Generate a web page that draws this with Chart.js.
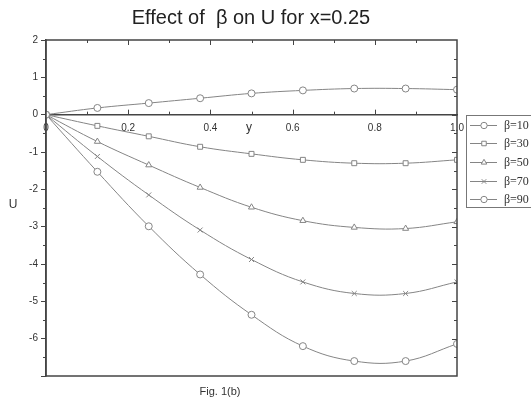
<!DOCTYPE html>
<html>
<head>
<meta charset="utf-8">
<script src="https://cdn.jsdelivr.net/npm/chart.js@4.4.0/dist/chart.umd.min.js"></script>
<style>
  html, body { margin: 0; padding: 0; background: #fff; }
  #wrap { width: 531px; height: 403px; position: relative; }
</style>
</head>
<body>
<div id="wrap"><canvas id="c" width="531" height="403"></canvas></div>
<script>
// y positions across the channel
const yPos = [0, 0.125, 0.25, 0.375, 0.5, 0.625, 0.75, 0.875, 1.0];

// velocity U for each beta
const u10 = [0, 0.18, 0.31, 0.44, 0.57, 0.65, 0.70, 0.70, 0.67];
const u30 = [0, -0.30, -0.58, -0.86, -1.05, -1.21, -1.30, -1.30, -1.21];
const u50 = [0, -0.72, -1.35, -1.95, -2.48, -2.84, -3.02, -3.05, -2.87];
const u70 = [0, -1.12, -2.15, -3.09, -3.88, -4.48, -4.79, -4.79, -4.48];
const u90 = [0, -1.53, -2.99, -4.28, -5.36, -6.20, -6.60, -6.60, -6.14];

const seriesLabels = ['\u03b2=10', '\u03b2=30', '\u03b2=50', '\u03b2=70', '\u03b2=90'];
const seriesValues = [u10, u30, u50, u70, u90];
const seriesMarkers = ['circle', 'rect', 'triangle', 'crossRot', 'circle'];

const titleText = 'Effect of  \u03b2 on U for x=0.25';
const xTitle = 'y';
const yTitle = 'U';
const caption = 'Fig. 1(b)';

const LINE = '#858585';
const AXIS = '#444444';

const datasets = seriesValues.map((vals, i) => ({
  label: seriesLabels[i],
  data: yPos.map((x, k) => ({ x: x, y: vals[k] })),
  borderColor: LINE,
  borderWidth: 1,
  backgroundColor: '#ffffff',
  pointStyle: seriesMarkers[i],
  pointRadius: 3.5,
  pointBorderColor: LINE,
  pointBackgroundColor: '#ffffff',
  pointBorderWidth: 1,
  tension: 0.4,
  fill: false,
  clip: 0
}));

// frame, inward/minor ticks, free-standing labels and the boxed legend
const decorations = {
  id: 'decorations',
  afterDraw(chart) {
    const ctx = chart.ctx;
    const a = chart.chartArea;
    const xs = chart.scales.x, ys = chart.scales.y;
    const y0 = ys.getPixelForValue(0);
    ctx.save();

    // box around the plot
    ctx.strokeStyle = AXIS;
    ctx.lineWidth = 1.5;
    ctx.strokeRect(a.left, a.top, a.right - a.left, a.bottom - a.top);

    ctx.lineWidth = 1;
    ctx.beginPath();
    // x ticks: on the zero line (upward) and on the top border (downward)
    for (let i = 1; i < 10; i++) {
      const v = i / 10;
      const px = Math.round(xs.getPixelForValue(v)) + 0.5;
      const len = (i % 2 === 0) ? 5 : 3;
      ctx.moveTo(px, y0); ctx.lineTo(px, y0 - len);
      ctx.moveTo(px, a.top); ctx.lineTo(px, a.top + len);
    }
    // y minor ticks on the left (outward) and all ticks on the right (inward)
    for (let k = -14; k <= 4; k++) {
      const v = k / 2;
      const py = Math.round(ys.getPixelForValue(v)) + 0.5;
      const major = (k % 2 === 0);
      if (!major) { ctx.moveTo(a.left, py); ctx.lineTo(a.left - 3, py); }
      if (v > -7 && v < 2) {
        const len = major ? 5 : 3;
        ctx.moveTo(a.right, py); ctx.lineTo(a.right - len, py);
      }
    }
    ctx.stroke();

    // title and axis captions
    ctx.fillStyle = '#222';
    ctx.textAlign = 'center';
    ctx.textBaseline = 'middle';
    ctx.font = '20px "Liberation Sans", Arial, sans-serif';
    ctx.fillText(titleText, 251, 18);
    ctx.font = '12px "Liberation Sans", Arial, sans-serif';
    ctx.fillStyle = '#333';
    ctx.fillText(xTitle, 249, 128);
    ctx.fillText(yTitle, 13, 205);
    ctx.font = '11px "Liberation Sans", Arial, sans-serif';
    ctx.fillText(caption, 220, 392);

    // legend box
    const lx = 466, ly = 115, lw = 90, lh = 92;
    ctx.strokeStyle = '#777';
    ctx.lineWidth = 1;
    ctx.strokeRect(lx + 0.5, ly + 0.5, lw, lh);
    const rows = [125, 143, 162, 181, 199];
    chart.data.datasets.forEach((ds, i) => {
      const ry = rows[i] + 0.5;
      ctx.strokeStyle = LINE;
      ctx.lineWidth = 1;
      ctx.beginPath();
      ctx.moveTo(470, ry); ctx.lineTo(497, ry);
      ctx.stroke();
      ctx.fillStyle = '#ffffff';
      Chart.helpers.drawPoint(ctx, {
        pointStyle: ds.pointStyle, radius: 3.2, rotation: 0, borderWidth: 1
      }, 484, ry);
      ctx.fillStyle = '#333';
      ctx.textAlign = 'left';
      ctx.font = '12px "Liberation Serif", "Times New Roman", serif';
      ctx.fillText(ds.label, 504, ry);
    });
    ctx.restore();
  }
};

new Chart(document.getElementById('c'), {
  type: 'line',
  data: { datasets: datasets },
  plugins: [decorations],
  options: {
    responsive: false,
    animation: false,
    layout: { padding: { top: 40, bottom: 27, left: 0, right: 74 } },
    plugins: { legend: { display: false }, tooltip: { enabled: false } },
    scales: {
      x: {
        type: 'linear',
        min: 0, max: 1,
        position: { y: 0 },
        afterFit(scale) { scale.height = 0; },
        grid: { display: false },
        border: { display: true, color: AXIS, width: 1.5 },
        ticks: {
          stepSize: 0.2,
          autoSkip: false,
          maxRotation: 0,
          padding: 0,
          color: '#333',
          font: { family: '"Liberation Sans", Arial, sans-serif', size: 10 },
          callback: (v) => (v === 0 ? '0' : Number(v).toFixed(1))
        }
      },
      y: {
        type: 'linear',
        min: -7, max: 2,
        position: 'left',
        afterFit(scale) { scale.width = 46; },
        grid: { display: true, drawOnChartArea: false, drawTicks: true, tickLength: 5, color: AXIS },
        border: { display: true, color: AXIS, width: 1.5 },
        ticks: {
          stepSize: 1,
          padding: 3,
          color: '#333',
          font: { family: '"Liberation Sans", Arial, sans-serif', size: 10 },
          callback: (v) => (v === -7 ? '' : String(v))
        }
      }
    }
  }
});
</script>
</body>
</html>
